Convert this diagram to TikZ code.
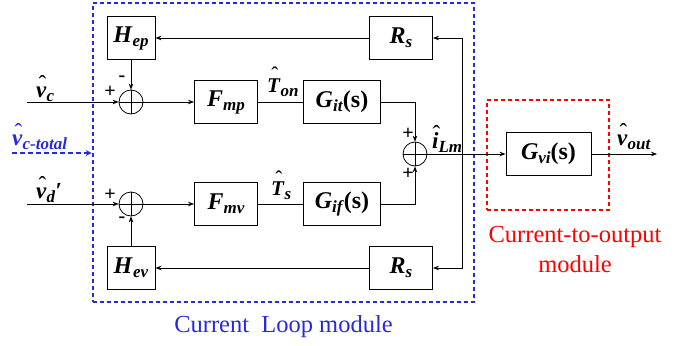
\documentclass[tikz,border=0pt]{standalone}
\usepackage{fontspec}
\setmainfont{Liberation Serif}
\usetikzlibrary{arrows.meta, positioning}

\definecolor{loopblue}{RGB}{40,40,225}
\definecolor{outred}{RGB}{255,0,0}

\newcommand{\bi}[1]{\textbf{\textit{#1}}}
\newcommand{\subs}[1]{\raisebox{-4pt}{\fontsize{17}{17}\selectfont\bi{#1}}}
\newcommand{\hatted}[2][6pt]{\leavevmode\setbox0\hbox{#2}\hbox to \wd0{\hss\kern2pt\raisebox{#1}{\mdseries\upshape\char"02C6}\hss}\kern-\wd0\box0}

\begin{document}
\begin{tikzpicture}[x=1pt, y=-1pt,
  blk/.style={draw, line width=0.9pt, minimum width=#1, minimum height=43pt, inner sep=0pt, font=\fontsize{24}{28}\selectfont},
  sumc/.style={draw, circle, line width=0.8pt, minimum size=24pt, inner sep=0pt},
  arr/.style={-{Stealth[length=6pt, width=4.5pt]}, line width=0.8pt},
  ln/.style={line width=0.8pt},
  sgn/.style={font=\fontsize{20}{20}\selectfont\bfseries, inner sep=0pt},
  lbl/.style={anchor=base west, inner sep=0pt, font=\fontsize{23}{23}\selectfont},
  module/.style={dash pattern=on 4pt off 3pt, line width=2.6pt},
]
\useasboundingbox (0,0) rectangle (684,345);

% Frames
\node[draw, module, loopblue, minimum width=381pt, minimum height=299pt] (loop) at (283.5,152.5) {};
\node[draw, module, outred, minimum width=122pt, minimum height=110pt] (outbox) at (548,155) {};

% Blocks
\node[blk=48pt] (hep) at (131,38) {\bi{H}\subs{ep}};
\node[blk=48pt] (hev) at (131,268) {\bi{H}\subs{ev}};
\node[blk=63pt] (fmp) at (226,102) {\bi{F}\subs{mp}};
\node[blk=63pt] (fmv) at (226,204) {\bi{F}\subs{mv}};
\node[blk=77pt] (git) at (342,102) {\bi{G}\subs{it}\textbf{(s)}};
\node[blk=77pt] (gif) at (342,204) {\bi{G}\subs{if}\textbf{(s)}};
\node[blk=63pt] (rsp) at (401,38) {\bi{R}\subs{s}};
\node[blk=63pt] (rsv) at (401,268) {\bi{R}\subs{s}};
\node[blk=85pt] (gvi) at (548.5,154) {\bi{G}\subs{vi}\textbf{(s)}};

% Summing junctions
\node[sumc] (sump) at (131,102) {};
\node[sumc] (sumv) at (131,204) {};
\node[sumc] (sumi) at (415,154) {};
\foreach \s in {sump, sumv, sumi}
  \draw[ln] (\s.north) -- (\s.south) (\s.west) -- (\s.east);

% Free ends
\coordinate (vcin) at (27,102);
\coordinate (vdin) at (27,204);
\coordinate (vtot) at (12,153);
\coordinate (vout) at (657,154);
\coordinate (jn) at (462,154);

% Connections
\draw[arr] (vcin) -- (sump);
\draw[arr] (vdin) -- (sumv);
\draw[arr] (hep) -- (sump);
\draw[arr] (hev) -- (sumv);
\draw[arr] (sump) -- (fmp);
\draw[arr] (sumv) -- (fmv);
\draw[ln] (fmp) -- (git);
\draw[ln] (fmv) -- (gif);
\draw[arr] (git.east) -| (sumi.north);
\draw[arr] (gif.east) -| (sumi.south);
\draw[arr] (sumi) -- (gvi);
\draw[arr] (gvi) -- (vout);
\draw[arr] (jn) |- (rsp.east);
\draw[arr] (jn) |- (rsv.east);
\draw[arr] (rsp) -- (hep);
\draw[arr] (rsv) -- (hev);
\draw[loopblue, line width=2pt, dash pattern=on 5pt off 3pt, -{Stealth[length=6pt, width=6pt]}] (vtot) -- (vtot -| loop.west);

% Signals
\node[lbl] (lvc) at (36,97) {\hatted{\bi{v}}\subs{c}};
\node[lbl] (lvd) at (36,198) {\hatted{\bi{v}}\subs{d}\bi{\char"2032}};
\node[lbl, loopblue] (lvt) at (12,145) {\hatted{\bi{v}}\subs{c-total}};
\node[lbl, font=\fontsize{21}{21}\selectfont] (lton) at (267,92) {\hatted[10pt]{\bi{T}}\subs{on}};
\node[lbl, font=\fontsize{21}{21}\selectfont] (lts) at (271,195) {\hatted[10pt]{\bi{T}}\subs{s}};
\node[lbl] (lilm) at (432,148) {\hatted[7pt]{\bi{i}}\subs{Lm}};
\node[lbl] (lvout) at (617,145) {\hatted{\bi{v}}\subs{out}};

% Signs
\node[sgn] at (110,92) {+};
\node[sgn] at (122,79) {-};
\node[sgn] at (110,195) {+};
\node[sgn] at (122,220) {-};
\node[sgn] at (408,134) {+};
\node[sgn] at (408,174) {+};

% Module names
\node[loopblue, font=\fontsize{24.5}{30}\selectfont, anchor=base] (looptxt) at (283.5,332) {Current\ \ Loop module};
\node[outred, align=center, font=\fontsize{24.5}{30}\selectfont] (outtxt) at (575,250) {Current-to-output\\module};

\end{tikzpicture}
\end{document}
